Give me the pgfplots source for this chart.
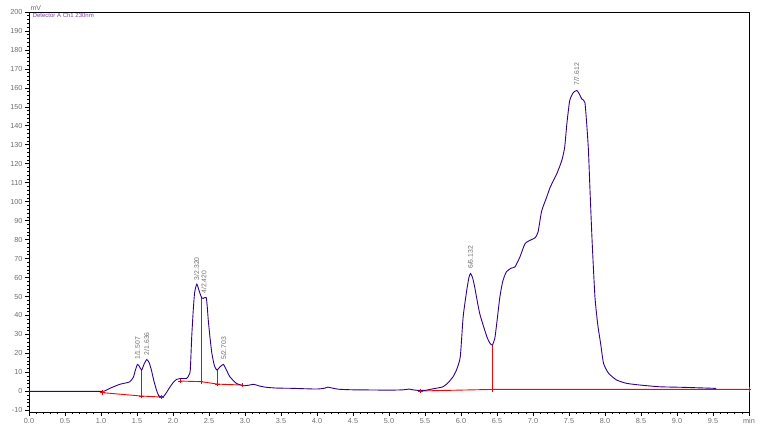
\documentclass[border=0pt]{standalone}
\usepackage{pgfplots}
\pgfplotsset{compat=1.18}
\usepackage{fontspec}
\setmainfont{Liberation Sans}
\definecolor{sig}{RGB}{50,0,140}
\definecolor{lab}{RGB}{110,110,110}
\definecolor{det}{RGB}{120,60,170}
\begin{document}
\begin{tikzpicture}
\useasboundingbox (-29pt,-16pt) rectangle (737pt,412pt);
\begin{axis}[
  scale only axis,
  width=720pt, height=400pt,
  xmin=0, xmax=10, ymin=-10.9, ymax=200,
  axis line style={black, line width=0.9pt},
  tick align=outside,
  xtick pos=bottom, ytick pos=left,
  xtick={0,0.5,...,10},
  xticklabels={0.0,0.5,1.0,1.5,2.0,2.5,3.0,3.5,4.0,4.5,5.0,5.5,6.0,6.5,7.0,7.5,8.0,8.5,9.0,9.5,min},
  ytick={-10,0,...,200},
  minor x tick num=4,
  minor y tick num=4,
  major tick length=4pt, minor tick length=2pt,
  tick style={black, line width=0.6pt},
  /pgf/number format/assume math mode=true,
  ticklabel style={font=\fontsize{7.3}{8}\selectfont, text=lab},
  xticklabel style={yshift=1pt},
  yticklabel style={xshift=1pt},
  clip=false,
]
% integration baselines
\addplot[red, line width=0.9pt, mark=+, mark size=2.2pt, mark options={line width=0.8pt}] coordinates {(1.02,-0.7) (1.565,-2.5) (1.84,-3)};
\addplot[red, line width=0.9pt] coordinates {(1.565,-2.5) (1.565,11.2)};
\addplot[red, line width=0.9pt, mark=+, mark size=2.2pt, mark options={line width=0.8pt}] coordinates {(2.10,5.4) (2.39,5.1) (2.62,3.8) (2.97,3.3)};
\addplot[red, line width=0.9pt] coordinates {(2.39,5.1) (2.39,49.2)};
\addplot[red, line width=0.9pt] coordinates {(2.62,3.8) (2.62,11.2)};
\addplot[red, line width=0.9pt, mark=+, mark size=2.2pt, mark options={line width=0.8pt}] coordinates {(5.44,0.2) (6.435,1.0) (10,1.0)};
\addplot[red, line width=0.9pt] coordinates {(6.435,1.0) (6.435,24.4)};
% chromatogram
\addplot[sig, line width=0.9pt, mark=none, smooth, tension=0.35] coordinates {
(0,0) (0.5,0) (1.0,0) (1.05,0.2) (1.125,1.6) (1.2,2.8) (1.26,3.7) (1.33,4.3)
(1.40,5) (1.45,7.5) (1.48,11.5) (1.507,14.2) (1.535,13) (1.565,11.2) (1.60,14.5)
(1.636,16.8) (1.67,15) (1.70,11.2) (1.735,5.5) (1.77,0.7) (1.80,-2.2) (1.82,-2.8)
(1.85,-2.9) (1.875,-2.5) (1.92,0) (1.96,2.4) (2.00,4.5) (2.05,6.3) (2.12,6.8)
(2.19,6.8) (2.22,8.5) (2.24,11.2) (2.26,28.7) (2.28,42) (2.30,52) (2.33,56.5)
(2.355,54) (2.375,51.6) (2.40,49.2) (2.42,49) (2.46,49.5) (2.475,45) (2.49,37.5)
(2.515,28) (2.54,20) (2.575,13.5) (2.61,11.2) (2.65,12.8) (2.70,14.2) (2.745,11)
(2.79,7.7) (2.88,4.2) (2.98,3) (3.05,3.2) (3.12,3.7) (3.20,2.8) (3.30,2.1)
(3.45,1.7) (3.63,1.6) (3.8,1.4) (4.0,1.2) (4.10,1.6) (4.15,2.2) (4.20,1.8)
(4.30,1.1) (4.5,0.8) (4.8,0.7) (5.0,0.6) (5.2,0.8) (5.28,1.2) (5.33,0.8)
(5.40,0.5) (5.50,0.5) (5.57,1.0) (5.65,1.6) (5.75,2.4) (5.82,4.5) (5.89,7.7)
(5.94,11.5) (5.99,18.2) (6.03,39.3) (6.08,53.3) (6.11,60) (6.132,62.1) (6.16,60)
(6.19,55) (6.26,41) (6.36,28.7) (6.40,25.5) (6.435,24.4) (6.47,28) (6.50,37)
(6.54,49.8) (6.58,58) (6.63,63) (6.70,65) (6.75,65.6) (6.82,71) (6.89,77.9)
(6.98,80) (7.03,81) (7.07,84) (7.12,95) (7.19,102.4) (7.24,107.7) (7.33,114.7)
(7.40,121.7) (7.44,128.7) (7.47,141) (7.51,153.3) (7.56,157.5) (7.607,158.6)
(7.64,157) (7.676,154.2) (7.72,152.4) (7.746,141) (7.77,127) (7.79,107.7)
(7.82,80) (7.86,50) (7.90,35) (7.94,25) (7.98,14.7) (8.05,9.5) (8.16,6)
(8.30,4.2) (8.49,3.3) (8.76,2.4) (9.09,2.1) (9.5,1.6) (9.53,1.5)
};
% peak labels
\tikzset{pk/.style={rotate=90, anchor=west, font=\fontsize{6.8}{7}\selectfont, text=lab, inner sep=1pt}}
\node[pk] at (axis cs:1.507,16) {1/1.507};
\node[pk] at (axis cs:1.636,18.5) {2/1.636};
\node[pk] at (axis cs:2.33,58) {3/2.320};
\node[pk] at (axis cs:2.43,51) {4/2.420};
\node[pk] at (axis cs:2.703,16) {5/2.703};
\node[pk] at (axis cs:6.132,64) {6/6.132};
\node[pk] at (axis cs:7.607,160.5) {7/7.612};
% header texts
\node[anchor=north west, font=\fontsize{6}{7}\selectfont, text=det, inner sep=0pt] at (axis cs:0.05,199.3) {Detector A Ch1 230nm};
\node[anchor=south west, font=\fontsize{7}{8}\selectfont, text=lab, inner sep=0pt] at (axis cs:0.02,200.5) {mV};
\end{axis}
\end{tikzpicture}
\end{document}
